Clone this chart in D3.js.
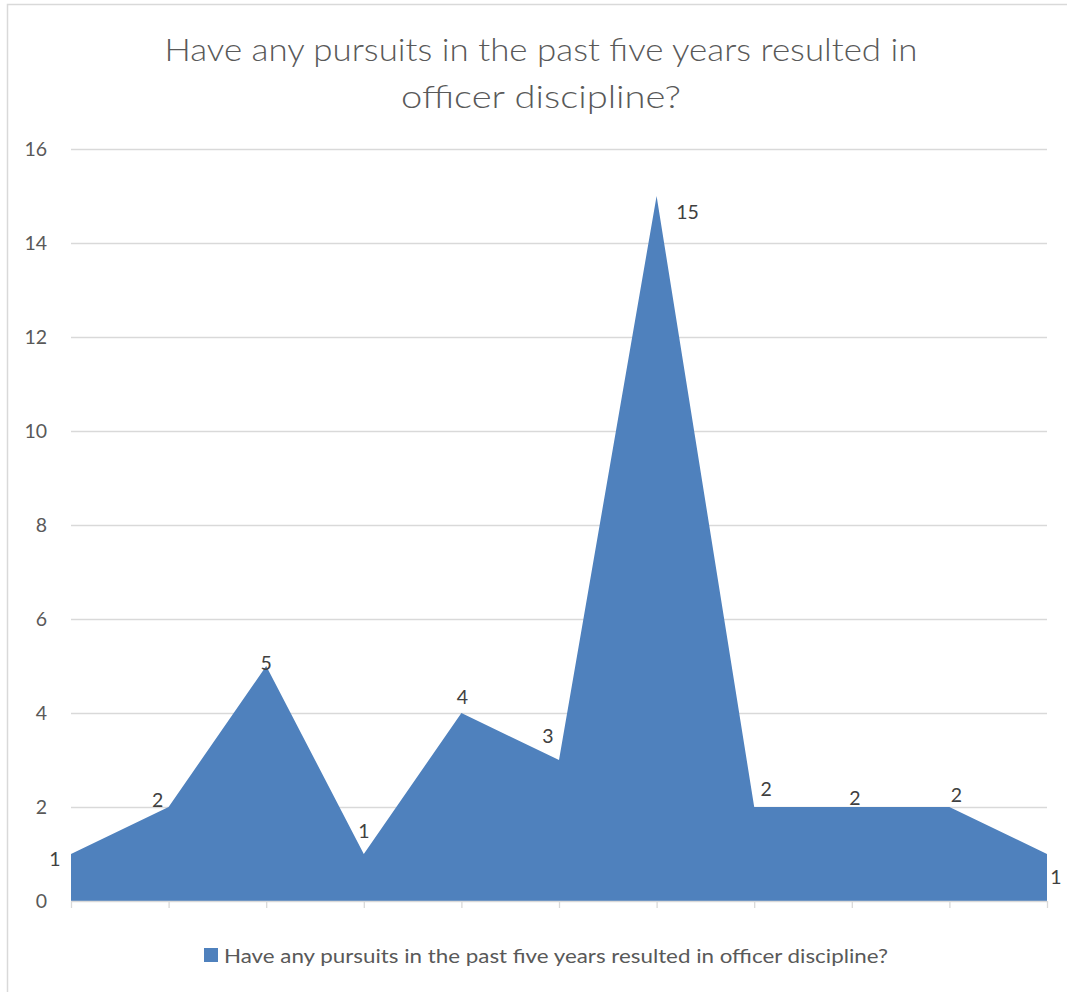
<!DOCTYPE html>
<html>
<head>
<meta charset="utf-8">
<script src="https://cdn.jsdelivr.net/npm/d3@7"></script>
<style>
  html, body { margin: 0; padding: 0; background: #fff; }
  svg { display: block; }
  text { font-family: Lato, "Open Sans", sans-serif; }
</style>
</head>
<body>
<svg id="chart" width="1067" height="992"></svg>
<script>
// Survey responses per category (11 categories, unlabeled on the axis)
const categories = ["c1", "c2", "c3", "c4", "c5", "c6", "c7", "c8", "c9", "c10", "c11"];
const values = [1, 2, 5, 1, 4, 3, 15, 2, 2, 2, 1];
const yTicks = [0, 2, 4, 6, 8, 10, 12, 14, 16];
const titleLines = ["Have any pursuits in the past five years resulted in", "officer discipline?"];
const seriesName = "Have any pursuits in the past five years resulted in officer discipline?";

// Data-label nudges (px) relative to each point
const labelNudge = [[-16, 12], [-11, 0], [0, 4], [0, -16], [1, -9], [-11, -17], [31, 23], [12, -11], [3, -2], [7, -5], [9, 30]];

const W = 1067, H = 992;
const plot = { left: 71, right: 1047, top: 149, bottom: 901 };
const fill = "#4f81bd";
const grid = "#d9d9d9";
const numFont = "19.5px";

const svg = d3.select("#chart");

// chart area frame
svg.append("rect")
  .attr("x", 7.5).attr("y", 4.5)
  .attr("width", W + 10).attr("height", H + 10)
  .attr("fill", "#fff").attr("stroke", grid).attr("stroke-width", 1.5);

const x = d3.scalePoint().domain(categories).range([plot.left, plot.right]);
const y = d3.scaleLinear().domain([0, 16]).range([plot.bottom, plot.top]);

// gridlines
svg.append("g")
  .selectAll("line")
  .data(yTicks.filter(t => t > 0))
  .join("line")
  .attr("x1", plot.left).attr("x2", plot.right)
  .attr("y1", d => Math.round(y(d)) + 0.5).attr("y2", d => Math.round(y(d)) + 0.5)
  .attr("stroke", grid).attr("stroke-width", 1.3);

// y axis labels
const yAxis = svg.append("g")
  .attr("transform", `translate(${plot.left},0)`)
  .call(d3.axisLeft(y).tickValues(yTicks).tickSize(0).tickPadding(24));
yAxis.select(".domain").remove();
yAxis.selectAll("text")
  .attr("fill", "#595959")
  .style("font-size", numFont)
  .style("font-family", "Lato, 'Open Sans', sans-serif");

// area
const area = d3.area()
  .x((d, i) => x(categories[i]))
  .y0(y(0))
  .y1(d => y(d));
svg.append("path")
  .datum(values)
  .attr("d", area)
  .attr("fill", fill);

// x axis with category ticks (no tick labels)
const xAxis = svg.append("g")
  .attr("transform", `translate(0,${plot.bottom})`)
  .call(d3.axisBottom(x).tickSize(7).tickFormat(""));
xAxis.select(".domain").attr("stroke", grid).attr("stroke-width", 1.3)
  .attr("d", `M${plot.left},0.5H${plot.right}`);
xAxis.selectAll(".tick line").attr("stroke", grid).attr("stroke-width", 1.3);

// data labels
svg.append("g")
  .selectAll("text")
  .data(values)
  .join("text")
  .attr("x", (d, i) => x(categories[i]) + labelNudge[i][0])
  .attr("y", (d, i) => y(d) + labelNudge[i][1])
  .attr("text-anchor", "middle")
  .attr("fill", "#404040")
  .style("font-size", numFont)
  .text(d => d);

// title
const titleWidths = [753, 280];
svg.append("g")
  .selectAll("text")
  .data(titleLines)
  .join("text")
  .attr("x", 541)
  .attr("y", (d, i) => 61 + i * 47)
  .attr("text-anchor", "middle")
  .attr("fill", "#595959")
  .style("font-size", "32px")
  .style("font-weight", 300)
  .attr("textLength", (d, i) => titleWidths[i])
  .attr("lengthAdjust", "spacingAndGlyphs")
  .text(d => d);

// legend
const legend = svg.append("g");
legend.append("rect")
  .attr("x", 204).attr("y", 948).attr("width", 14).attr("height", 14)
  .attr("fill", fill);
legend.append("text")
  .attr("x", 224).attr("y", 963)
  .attr("fill", "#595959")
  .style("font-size", "19.5px")
  .attr("textLength", 664)
  .attr("lengthAdjust", "spacingAndGlyphs")
  .text(seriesName);
</script>
</body>
</html>
